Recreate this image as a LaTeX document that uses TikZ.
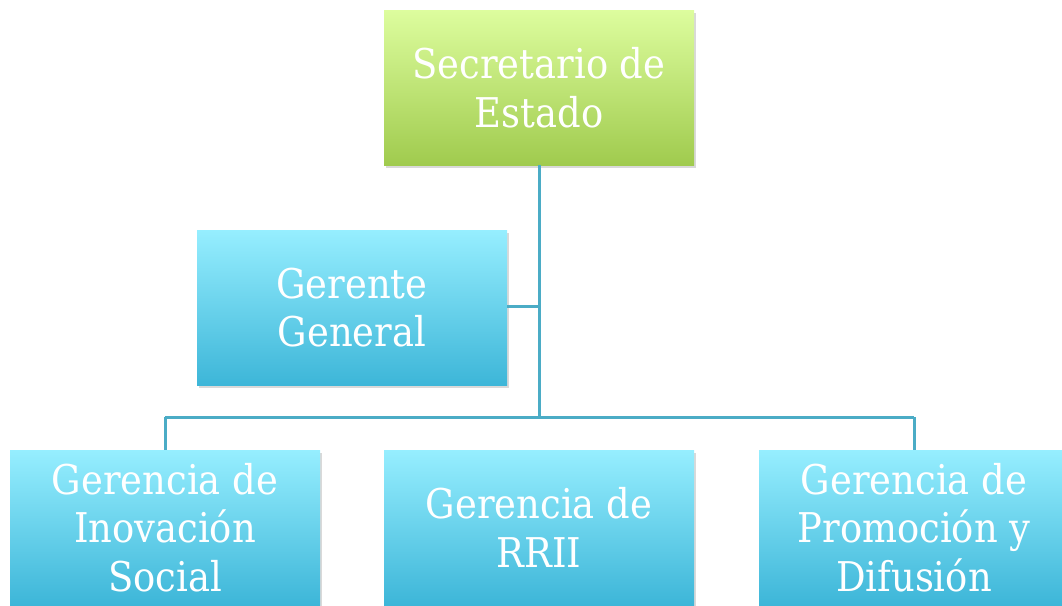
\documentclass[tikz,border=0pt]{standalone}
\usepackage{fontspec}
\setmainfont{DejaVu Serif Condensed}
\usetikzlibrary{shadows}
\definecolor{linec}{HTML}{4BACC6}
\definecolor{gtop}{HTML}{DDFD9E}
\definecolor{gmid}{HTML}{C6E888}
\definecolor{gbot}{HTML}{A0CB4E}
\definecolor{ctop}{HTML}{96EEFF}
\definecolor{cmid}{HTML}{74D8F0}
\definecolor{cbot}{HTML}{3DB6D8}
\tikzset{
  box/.style={minimum width=310pt, minimum height=155pt, inner sep=0pt,
    align=center, text=white, font=\fontsize{41}{48.5}\selectfont,
    drop shadow={opacity=0.3, shadow xshift=2pt, shadow yshift=-3pt}},
  greenbox/.style={box, top color=gtop, middle color=gmid, bottom color=gbot},
  cyanbox/.style={box, top color=ctop, middle color=cmid, bottom color=cbot},
  conn/.style={draw=linec, line width=3pt}
}
\begin{document}
\begin{tikzpicture}[x=1pt,y=-1pt]
\useasboundingbox (0,0) rectangle (1062,605);
\clip (0,0) rectangle (1062,605);
\coordinate (j1) at (539,306);
\coordinate (j2) at (539,417);
\coordinate (jl) at (165,417);
\coordinate (jr) at (914,417);
\node[greenbox] (sec) at (539,87.5) {Secretario de\\Estado};
\node[cyanbox] (gg) at (352,307.5) {Gerente\\General};
\node[cyanbox] (gi) at (165,527.5) {Gerencia de\\Inovación\\Social};
\node[cyanbox] (gr) at (539,527.5) {Gerencia de\\RRII};
\node[cyanbox] (gp) at (914,527.5) {Gerencia de\\Promoción y\\Difusión};
\draw[conn] (sec.south) -- (j2);
\draw[conn] (gg.east |- j1) -- (j1);
\draw[conn] (jl) -- (jr);
\draw[conn] (jl) -- (gi.north);
\draw[conn] (jr) -- (gp.north);
\end{tikzpicture}
\end{document}
